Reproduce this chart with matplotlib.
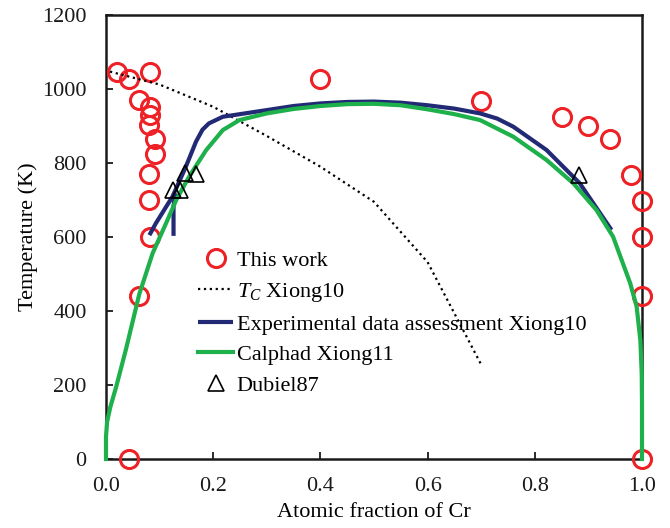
import matplotlib
matplotlib.use("Agg")
import matplotlib.pyplot as plt

plt.rcParams['font.family'] = ['Liberation Serif', 'DejaVu Serif']
plt.rcParams['mathtext.fontset'] = 'custom'
plt.rcParams['mathtext.rm'] = 'Liberation Serif'
plt.rcParams['mathtext.it'] = 'Liberation Serif:italic'

# This work: measured points
work_x = [0.020, 0.042, 0.061, 0.082, 0.082, 0.082, 0.081, 0.091, 0.091, 0.081, 0.081, 0.082,
          0.062, 0.042, 0.40, 0.70, 0.85, 0.90, 0.94, 0.98, 1.0, 1.0, 1.0, 1.0]
work_T = [1047, 1026, 970, 1047, 952, 930, 903, 864, 823, 769, 700, 601,
          441, 0, 1027, 968, 925, 900, 864, 768, 698, 601, 441, 0]

# Curie temperature, Xiong10
tc_x = [0.0075, 0.1, 0.2, 0.3, 0.4, 0.5, 0.6, 0.7]
tc_T = [1047, 1012, 952, 873, 790, 695, 532, 255]

# Experimental data assessment, Xiong10
exp_x = [0.081, 0.093, 0.124, 0.149, 0.168, 0.180, 0.192, 0.218, 0.30, 0.35, 0.40, 0.45,
         0.50, 0.55, 0.60, 0.65, 0.698, 0.73, 0.76, 0.822, 0.884, 0.943]
exp_T = [605, 637, 709, 790, 858, 890, 907, 925, 943, 954, 961, 965,
         966, 963, 956, 947, 934, 920, 898, 835, 745, 619]
exp2_x = [0.126, 0.126, 0.128, 0.131]
exp2_T = [603, 684, 705, 718]

# Calphad, Xiong11
cal_x = [0.0, 0.0, 0.002, 0.008, 0.019, 0.037, 0.062, 0.087, 0.112, 0.131, 0.155, 0.187,
         0.218, 0.249, 0.30, 0.35, 0.40, 0.45, 0.50, 0.55, 0.60, 0.65, 0.698, 0.76, 0.822,
         0.872, 0.915, 0.946, 0.978, 0.99, 0.997, 0.9995, 1.0, 1.0]
cal_T = [0, 60, 100, 140, 195, 295, 445, 556, 637, 700, 763, 835,
         889, 916, 934, 946, 954, 959, 960, 956, 945, 932, 916, 871, 808,
         745, 673, 601, 475, 412, 320, 230, 150, 0]

# Dubiel87
dub_x = [0.125, 0.138, 0.147, 0.168, 0.883]
dub_T = [727, 727, 773, 770, 768]

fig = plt.figure(figsize=(6.7, 5.28), dpi=100)
ax = fig.add_axes([0.1582, 0.1307, 0.8, 0.8409])

blue = '#232a75'
green = '#1db04b'
red = '#ee2226'

ax.plot(work_x, work_T, linestyle='none', marker='o', ms=13, mfc='none', mec=red,
        mew=2.2, clip_on=False, zorder=3, label='This work')
ax.plot(tc_x, tc_T, linestyle=':', color='black', lw=1.6, zorder=4,
        label=r'$T_C$ Xiong10')
ax.plot(exp_x, exp_T, color=blue, lw=3.0, zorder=4, solid_capstyle='butt',
        solid_joinstyle='round', label='Experimental data assessment Xiong10')
ax.plot(exp2_x, exp2_T, color=blue, lw=3.0, zorder=4, solid_capstyle='butt')
ax.plot(cal_x, cal_T, color=green, lw=3.0, zorder=4, clip_on=False,
        solid_joinstyle='round', label='Calphad Xiong11')
ax.plot(dub_x, dub_T, linestyle='none', marker='^', ms=11, mfc='none', mec='black',
        mew=1.2, zorder=5, label='Dubiel87')

ax.set_xlim(0, 1.0)
ax.set_ylim(0, 1200)
ax.set_xticks([0.0, 0.2, 0.4, 0.6, 0.8, 1.0])
ax.set_xticklabels(['0.0', '0.2', '0.4', '0.6', '0.8', '1.0'])
ax.set_yticks([0, 200, 400, 600, 800, 1000, 1200])

for s in ax.spines.values():
    s.set_linewidth(1.8)
    s.set_color('#1a1a1a')
ax.tick_params(axis='both', direction='in', length=5, width=1.3, labelsize=16,
               colors='#1a1a1a')
ax.tick_params(axis='x', pad=13)
ax.tick_params(axis='y', pad=14)

ax.set_xlabel('Atomic fraction of Cr', fontsize=16, labelpad=5)
ax.set_ylabel('Temperature (K)', fontsize=16, labelpad=3)

ax.legend(loc='center left', bbox_to_anchor=(0.134, 0.306), frameon=False, fontsize=16,
          handlelength=1.6, handletextpad=0.15, labelspacing=0.45, borderpad=0.4)

fig.savefig('out.png', dpi=100)
